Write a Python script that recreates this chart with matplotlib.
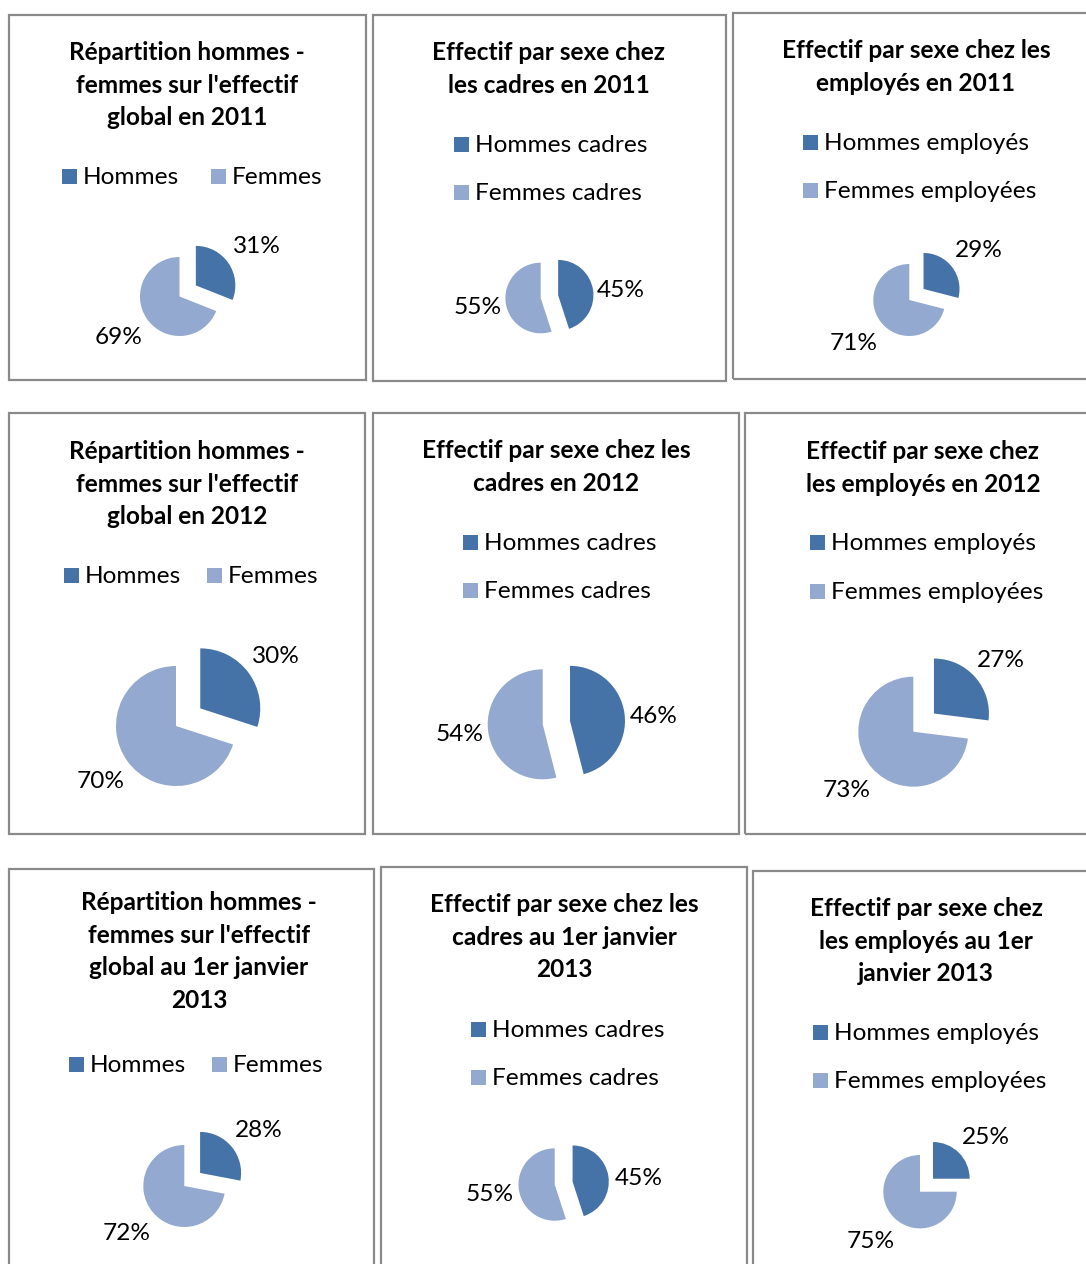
import matplotlib.pyplot as plt
from matplotlib.patches import Rectangle

# Données : pourcentages hommes / femmes par population et par année
titres = [
    "Répartition hommes -\nfemmes sur l'effectif\nglobal en 2011",
    "Effectif par sexe chez\nles cadres en 2011",
    "Effectif par sexe chez les\nemployés en 2011",
    "Répartition hommes -\nfemmes sur l'effectif\nglobal en 2012",
    "Effectif par sexe chez les\ncadres en 2012",
    "Effectif par sexe chez\nles employés en 2012",
    "Répartition hommes -\nfemmes sur l'effectif\nglobal au 1er janvier\n2013",
    "Effectif par sexe chez les\ncadres au 1er janvier\n2013",
    "Effectif par sexe chez\nles employés au 1er\njanvier 2013",
]
legende_global = ["Hommes", "Femmes"]
legende_cadres = ["Hommes cadres", "Femmes cadres"]
legende_employes = ["Hommes employés", "Femmes employées"]
legendes = [legende_global, legende_cadres, legende_employes] * 3
hommes = [31, 45, 29, 30, 46, 27, 28, 45, 25]
femmes = [69, 55, 71, 70, 54, 73, 72, 55, 75]

BLEU = "#4572a7"
BLEU_CLAIR = "#93a9cf"
GRIS = "#8a8a8a"

W_PX, H_PX = 1086, 1264
plt.rcParams["font.family"] = ["Lato", "DejaVu Sans"]
TAILLE = 17.6


def fx(x):
    return x / W_PX


def fy(y):
    return 1 - y / H_PX


# mise en page (pixels) : cadre, titre, légende, camembert
cadres = [
    (9, 15, 366, 380), (373, 15, 726, 381), (733, 13, 1100, 379),
    (9, 413, 365, 834), (373, 413, 739, 834), (745, 413, 1100, 834),
    (9, 869, 374, 1300), (381, 867, 747, 1300), (753, 871, 1100, 1300),
]
pos_titres = [
    (187, 60), (549, 60), (916, 58),
    (187, 459), (556, 458), (923, 459),
    (199, 910), (564, 912), (926, 916),
]
# (x du carré, ligne de base) pour chaque entrée de légende
pos_legendes = [
    [(62, 184), (211, 184)], [(454, 152), (454, 200)], [(803, 150), (803, 198)],
    [(64, 583), (207, 583)], [(463, 550), (463, 598)], [(810, 550), (810, 599)],
    [(69, 1072), (212, 1072)], [(471, 1037), (471, 1085)], [(813, 1040), (813, 1088)],
]
# centre (x, y), rayon, distance des étiquettes, décalage de l'étiquette hommes (dx, dy)
camemberts = [
    (179.5, 296.5, 39.5, 1.86, 0, 2), (540.7, 298, 35.3, 1.80, 0, 5),
    (909.3, 300, 36, 1.95, 0, 5),
    (176, 726, 60, 1.56, 0, 3), (542.7, 724.3, 55, 1.53, 0, 6),
    (913.3, 731.7, 55, 1.61, 1, 6),
    (184.3, 1186, 41, 1.82, 1, 5), (554.7, 1184.5, 36.2, 1.83, 1, 7),
    (920, 1191.7, 36.7, 1.90, 4, 8),
]

fig = plt.figure(figsize=(W_PX / 100, H_PX / 100), dpi=100)

for i in range(9):
    x0, y0, x1, y1 = cadres[i]
    fig.patches.append(Rectangle((fx(x0), fy(y1)), fx(x1 - x0), (y1 - y0) / H_PX,
                                 transform=fig.transFigure, fill=False,
                                 edgecolor=GRIS, linewidth=1.6))

    # titre, ligne par ligne
    tx, ty = pos_titres[i]
    for k, ligne in enumerate(titres[i].split("\n")):
        fig.text(fx(tx), fy(ty + 32.7 * k), ligne, ha="center", va="baseline",
                 fontsize=TAILLE, fontweight="bold", color="black")

    # légende
    for (lx, lb), lib, coul in zip(pos_legendes[i], legendes[i], [BLEU, BLEU_CLAIR]):
        fig.patches.append(Rectangle((fx(lx), fy(lb)), 15 / W_PX, 15 / H_PX,
                                     transform=fig.transFigure, facecolor=coul,
                                     edgecolor="none"))
        fig.text(fx(lx + 21), fy(lb), lib, ha="left", va="baseline",
                 fontsize=TAILLE, color="black")

    # camembert éclaté
    cx, cy, r, dist, ddx, ddy = camemberts[i]
    cote = 300
    ax = fig.add_axes([fx(cx - cote / 2), fy(cy + cote / 2), cote / W_PX, cote / H_PX])
    _, _, pcts = ax.pie([hommes[i], femmes[i]], colors=[BLEU, BLEU_CLAIR], startangle=90,
                        counterclock=False, explode=(0.5, 0), autopct="%1.0f%%",
                        pctdistance=dist, wedgeprops=dict(linewidth=0),
                        textprops=dict(fontsize=TAILLE, color="black"))
    px, py = pcts[0].get_position()
    pcts[0].set_position((px + ddx / r, py - ddy / r))
    lim = cote / (2 * r)
    ax.set_xlim(-lim, lim)
    ax.set_ylim(-lim, lim)
    ax.set_aspect("equal")

fig.savefig("out.png", dpi=100)
